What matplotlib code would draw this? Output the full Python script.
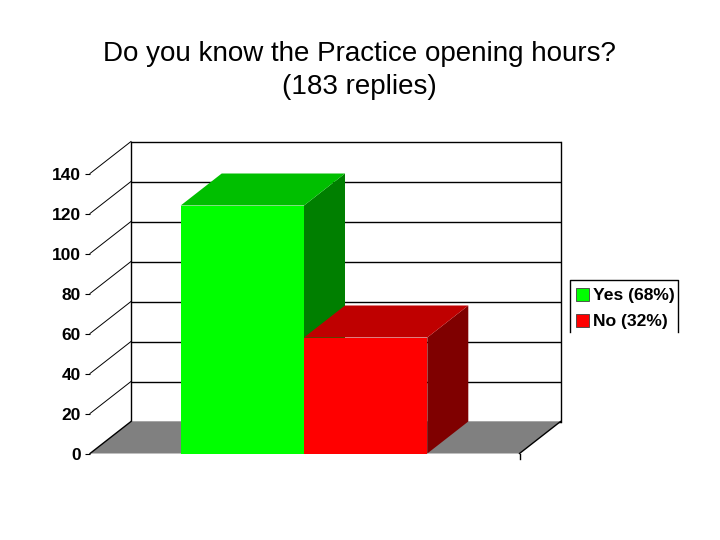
import matplotlib
matplotlib.use("Agg")
import matplotlib.pyplot as plt
from matplotlib.patches import Polygon, Rectangle

plt.rcParams['font.family'] = ['Liberation Sans', 'DejaVu Sans']

categories = ["Yes (68%)", "No (32%)"]
values = [124, 58]
front_colors = ["#00ff00", "#ff0000"]
top_colors = ["#00bf00", "#bf0000"]
side_colors = ["#007f00", "#7f0000"]
y_ticks = [0, 20, 40, 60, 80, 100, 120, 140]
title_lines = "Do you know the Practice opening hours?\n(183 replies)"

W, H = 720, 540
fig = plt.figure(figsize=(W / 100, H / 100), dpi=100)
fig.patch.set_facecolor("white")

# Front plane of the 3-D box, in pixels
L, R, B, T = 90, 519.5, 453.5, 173.5
ax = fig.add_axes([L / W, 1 - B / H, (R - L) / W, (B - T) / H])
ax.set_ylim(0, 140)
bar_px = 123.3
x0 = 0.5 - (180.7 - L) / bar_px
ax.set_xlim(x0, x0 + (R - L) / bar_px)
for s in ax.spines.values():
    s.set_visible(False)
ax.patch.set_visible(False)

# depth expressed in data units
dx = 41 / bar_px
dy = 32 / 2.0
xa, xb = ax.get_xlim()
top = y_ticks[-1]

# back wall gridlines and left wall diagonals
for t in y_ticks:
    ax.plot([xa + dx, xb + dx], [t + dy, t + dy], color="black", lw=1.0,
            clip_on=False, zorder=1, solid_capstyle="butt")
    if t > 0:
        ax.plot([xa, xa + dx], [t, t + dy], color="black", lw=0.7,
                clip_on=False, zorder=1)
ax.plot([xa + dx, xa + dx], [dy, top + dy], color="black", lw=1.0, clip_on=False, zorder=1)
ax.plot([xb + dx, xb + dx], [dy, top + dy], color="black", lw=1.0, clip_on=False, zorder=1)

# floor
ax.add_patch(Polygon([(xa, 0), (xb, 0), (xb + dx, dy), (xa + dx, dy)],
                     closed=True, facecolor="#808080", edgecolor="none",
                     clip_on=False, zorder=2))
ax.plot([xa, xa + dx], [0, dy], color="black", lw=1.0, clip_on=False, zorder=2)
ax.plot([xb, xb + dx], [0, dy], color="black", lw=1.0, clip_on=False, zorder=2)
ax.plot([xb, xb], [0, -2.5], color="black", lw=1.0, clip_on=False, zorder=2)

# bars: left bar first, so the right bar's top overlaps its side face
for i in [0, 1]:
    xc = i + 1
    v = values[i]
    l, r = xc - 0.5, xc + 0.5
    ax.add_patch(Polygon([(r, 0), (r + dx, dy), (r + dx, v + dy), (r, v)], closed=True,
                         facecolor=side_colors[i], edgecolor="none", clip_on=False,
                         zorder=3 + i))
    ax.add_patch(Polygon([(l, v), (r, v), (r + dx, v + dy), (l + dx, v + dy)], closed=True,
                         facecolor=top_colors[i], edgecolor="none", clip_on=False,
                         zorder=3 + i))
ax.bar([1, 2], values, width=1.0, color=front_colors, zorder=6)

ax.set_xticks([])
ax.set_yticks(y_ticks)
ax.set_yticklabels([str(t) for t in y_ticks], fontsize=12.5, fontweight="bold")
ax.tick_params(axis="y", length=3.6, width=0.8, pad=3, color="black")

fig.text(359 / W, 1 - 70.5 / H, title_lines, ha="center", va="center",
         fontsize=20, linespacing=1.34, color="black")

# legend box: top and sides only, cut off at the bottom
bx0, bx1, by0, by1 = 570, 678, 279.5, 332
fig.add_artist(plt.Line2D([bx0 / W, bx0 / W, bx1 / W, bx1 / W],
                          [1 - by1 / H, 1 - by0 / H, 1 - by0 / H, 1 - by1 / H],
                          color="black", lw=1.0, transform=fig.transFigure))
for name, col, yc in zip(categories, front_colors, [294, 320]):
    fig.add_artist(Rectangle((576 / W, 1 - (yc + 6.5) / H), 13 / W, 13 / H,
                             facecolor=col, edgecolor="#404040", lw=0.6,
                             transform=fig.transFigure))
    fig.text(593 / W, 1 - yc / H, name, ha="left", va="center_baseline",
             fontsize=12.6, fontweight="bold", color="black")

fig.savefig("out.png", dpi=100)
